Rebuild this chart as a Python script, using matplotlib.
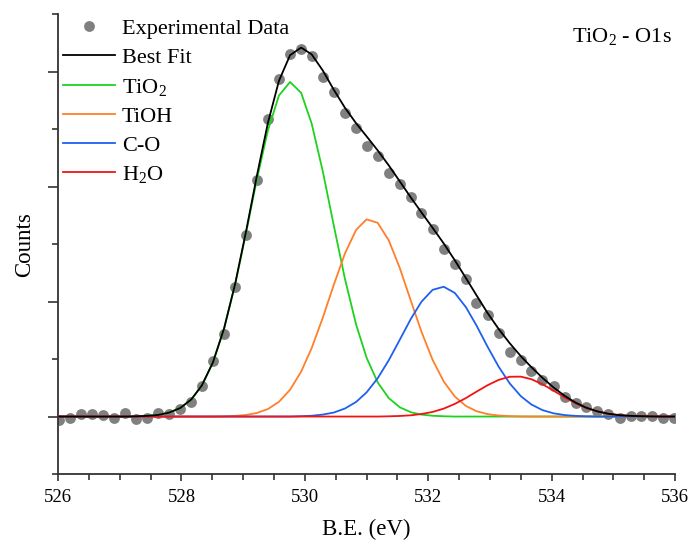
import numpy as np
import matplotlib.pyplot as plt
from matplotlib.ticker import MultipleLocator, NullFormatter

# binding energy grid (eV)
be = [526.02, 526.20, 526.38, 526.55, 526.73, 526.91, 527.09, 527.27, 527.44, 527.62,
      527.80, 527.98, 528.16, 528.33, 528.51, 528.69, 528.87, 529.05, 529.22, 529.40,
      529.58, 529.76, 529.94, 530.11, 530.29, 530.47, 530.65, 530.83, 531.00, 531.18,
      531.36, 531.54, 531.72, 531.89, 532.07, 532.25, 532.43, 532.61, 532.78, 532.96,
      533.14, 533.32, 533.50, 533.67, 533.85, 534.03, 534.21, 534.39, 534.56, 534.74,
      534.92, 535.10, 535.28, 535.45, 535.63, 535.81, 535.99]

experimental = [-0.03, -0.01, 0.02, 0.02, 0.015, -0.015, 0.03, -0.02, -0.015, 0.03,
                0.02, 0.065, 0.13, 0.27, 0.48, 0.72, 1.13, 1.58, 2.06, 2.59,
                2.94, 3.15, 3.20, 3.14, 2.95, 2.82, 2.64, 2.51, 2.35, 2.27,
                2.12, 2.02, 1.91, 1.77, 1.63, 1.46, 1.33, 1.20, 0.99, 0.88,
                0.73, 0.56, 0.49, 0.40, 0.32, 0.27, 0.17, 0.12, 0.08, 0.05,
                0.02, -0.01, 0.005, 0.005, 0.005, -0.01, -0.01]

tio2 = [0, 0, 0, 0, 0, 0, 0, 0.002, 0.006, 0.014,
        0.034, 0.074, 0.149, 0.270, 0.471, 0.763, 1.148, 1.605, 2.057, 2.487,
        2.792, 2.910, 2.815, 2.548, 2.134, 1.658, 1.196, 0.801, 0.512, 0.297,
        0.160, 0.080, 0.037, 0.017, 0.007, 0.0025, 0, 0, 0, 0,
        0, 0, 0, 0, 0, 0, 0, 0, 0, 0,
        0, 0, 0, 0, 0, 0, 0]

tioh = [0, 0, 0, 0, 0, 0, 0, 0, 0, 0,
        0, 0, 0, 0, 0, 0.002, 0.006, 0.014, 0.031, 0.065,
        0.128, 0.233, 0.391, 0.595, 0.859, 1.148, 1.419, 1.623, 1.715, 1.685,
        1.532, 1.289, 1.003, 0.737, 0.493, 0.305, 0.174, 0.092, 0.047, 0.021,
        0.009, 0.0035, 0.001, 0, 0, 0, 0, 0, 0, 0,
        0, 0, 0, 0, 0, 0, 0]

co = [0, 0, 0, 0, 0, 0, 0, 0, 0, 0,
      0, 0, 0, 0, 0, 0, 0, 0, 0, 0,
      0, 0, 0.003, 0.007, 0.017, 0.035, 0.070, 0.127, 0.210, 0.333,
      0.490, 0.670, 0.852, 0.999, 1.102, 1.129, 1.075, 0.951, 0.793, 0.608,
      0.434, 0.288, 0.177, 0.105, 0.056, 0.028, 0.013, 0.0055, 0.002, 0,
      0, 0, 0, 0, 0, 0, 0]

h2o = [0, 0, 0, 0, 0, 0, 0, 0, 0, 0,
       0, 0, 0, 0, 0, 0, 0, 0, 0, 0,
       0, 0, 0, 0, 0, 0, 0, 0, 0, 0,
       0.002, 0.005, 0.011, 0.022, 0.040, 0.069, 0.110, 0.161, 0.216, 0.272,
       0.319, 0.346, 0.347, 0.325, 0.281, 0.225, 0.167, 0.115, 0.075, 0.045,
       0.024, 0.012, 0.006, 0.003, 0.001, 0, 0]

# best fit is the sum of the components
best_fit = np.array(tio2) + np.array(tioh) + np.array(co) + np.array(h2o)

plt.rcParams['font.family'] = 'Liberation Serif'
plt.rcParams['mathtext.fontset'] = 'custom'
plt.rcParams['mathtext.rm'] = 'Liberation Serif'

fig = plt.figure(figsize=(6.91, 5.43), dpi=100)
ax = fig.add_axes([0.084, 0.127, 0.893, 0.847])

pts, = ax.plot(be, experimental, 'o', color='#808080', ms=7.8, mec='none', zorder=1)
g, = ax.plot(be, tio2, color='#1ed21e', lw=1.3, zorder=2)
o, = ax.plot(be, tioh, color='#ff7f2a', lw=1.3, zorder=3)
b, = ax.plot(be, co, color='#1f5ff0', lw=1.3, zorder=4)
r, = ax.plot(be, h2o, color='#f01414', lw=1.3, zorder=5)
k, = ax.plot(be, best_fit, color='black', lw=1.3, zorder=6)

ax.legend([pts, k, g, o, b, r],
          ['Experimental Data', 'Best Fit', 'TiO$\\mathregular{_2}$', 'TiOH', 'C-O',
           'H$\\mathregular{_2}$O'],
          loc='upper left', bbox_to_anchor=(0.008, 0.99), frameon=False,
          fontsize=16, handlelength=2.35, handletextpad=0.3, labelspacing=0.38,
          borderpad=0, borderaxespad=0)

ax.text(0.995, 0.974, 'TiO$\\mathregular{_2}$ - O1s', transform=ax.transAxes,
        ha='right', va='top', fontsize=16)

ax.set_xlim(526, 536)
ax.set_ylim(-0.5, 3.5)
ax.xaxis.set_major_locator(MultipleLocator(2))
ax.xaxis.set_minor_locator(MultipleLocator(0.5))
ax.yaxis.set_major_locator(MultipleLocator(1))
ax.yaxis.set_minor_locator(MultipleLocator(0.5))
ax.yaxis.set_major_formatter(NullFormatter())

for s in ['top', 'right']:
    ax.spines[s].set_visible(False)
for s in ['left', 'bottom']:
    ax.spines[s].set_linewidth(1.3)
    ax.spines[s].set_color('#333333')
ax.tick_params(axis='both', which='both', direction='out', color='#333333', width=1.2)
ax.tick_params(axis='y', which='major', length=7)
ax.tick_params(axis='y', which='minor', length=4)
ax.tick_params(axis='x', which='major', length=5, labelsize=13.5, pad=6)
ax.tick_params(axis='x', which='minor', length=4)

ax.set_xlabel('B.E. (eV)', fontsize=16.5, labelpad=9)
ax.set_ylabel('Counts', fontsize=16.5, labelpad=6)

fig.savefig('out.png', dpi=100)
